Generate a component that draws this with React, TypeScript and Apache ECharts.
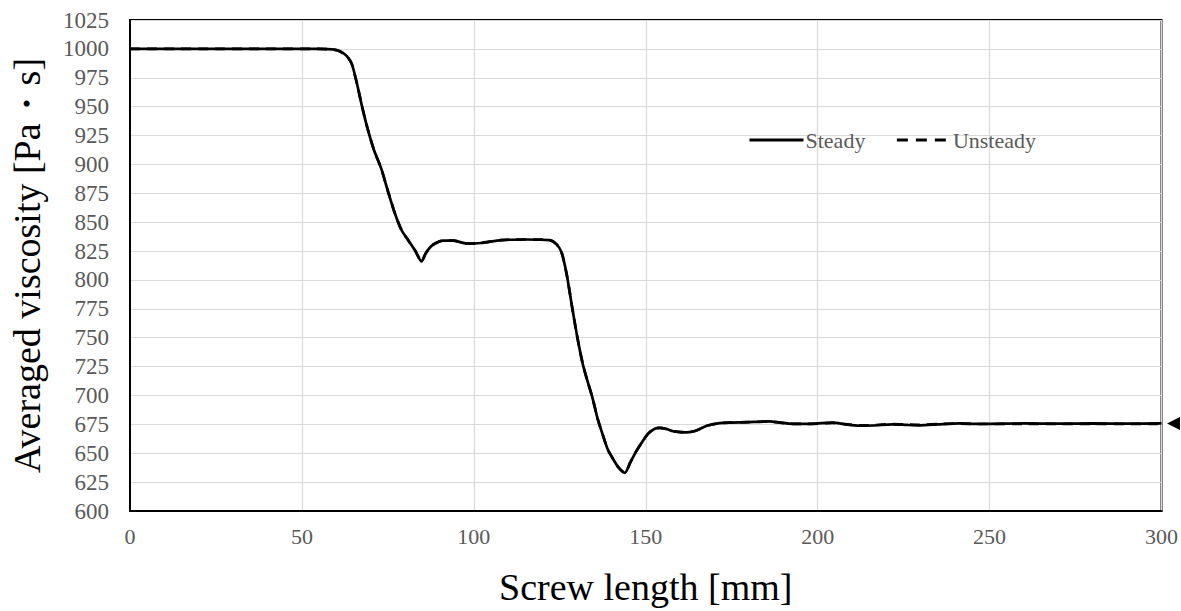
import React, { useEffect, useRef } from "react";
import * as echarts from "echarts";

const xTicks = { min: 0, max: 300, interval: 50 };
const yTicks = { min: 600, max: 1025, interval: 25 };

const screwLength = [
  0, 20, 40, 55, 59, 61, 63, 64.5, 66, 67.5, 69, 71, 73, 75, 77, 79, 81, 83, 84.8, 86,
  87.5, 89, 91, 94, 98, 102, 108, 115, 122, 124, 125.5, 127, 128.5, 130, 131.7, 133,
  134.5, 136, 137.6, 139, 140.5, 142, 143.9, 145.5, 147.3, 149, 150.7, 152.5, 154, 156,
  158, 161.8, 164, 165.7, 168, 171.5, 175, 180, 186, 189, 192.8, 198, 204.4, 208, 212,
  216, 221.8, 226, 229.7, 235, 241.3, 246, 250, 260, 270, 280, 290, 300,
];

const steadyValues = [
  1000, 1000, 1000, 1000, 999.5, 998, 994, 987, 970, 950, 932, 912, 897, 877, 858, 843,
  834, 825, 816, 823, 829, 832, 834, 834, 831.5, 832, 834.5, 835, 834.5, 831, 824, 805,
  778, 752, 727, 713, 698, 680, 665, 653, 645, 638, 633, 642, 652, 660, 667, 671, 672,
  671, 669, 668, 669, 671, 674, 676, 676.5, 677, 677.5, 676.5, 675.5, 675.5, 676.5, 675,
  673.8, 674, 675, 674.5, 674.2, 675, 675.8, 675.5, 675.5, 675.8, 675.6, 675.8, 675.6,
  675.8,
];

const unsteadyValues = [
  1000, 1000, 1000, 1000, 999.5, 998, 994, 987, 970, 950, 932, 912, 897, 877, 858, 843,
  834, 825, 816, 823, 829, 832, 834, 834, 831.5, 832, 834.5, 835, 834.5, 831, 824, 805,
  778, 752, 727, 713, 698, 680, 665, 653, 645, 638, 633, 642, 652, 660, 667, 671, 672,
  671, 669, 668, 669, 671, 674, 676, 676.5, 677, 677.5, 676.5, 675.5, 675.5, 676.2, 675.2,
  674.2, 674.3, 675.2, 674.8, 674.6, 675.3, 675.6, 675.3, 675.3, 675.5, 675.3, 675.5,
  675.3, 675.5,
];

const seriesNames = ["Steady", "Unsteady"];
const xAxisTitle = "Screw length [mm]";
const yAxisTitle = "Averaged viscosity [Pa・s]";

const SERIF = "Liberation Serif";

const xTickLabel = { fontFamily: SERIF, fontSize: 22, color: "#595959" };
const yTickLabel = { fontFamily: SERIF, fontSize: 23, color: "#595959" };

export default function App() {
  const ref = useRef<HTMLDivElement>(null);

  useEffect(() => {
    if (!ref.current) return;
    const chart = echarts.init(ref.current, null, { renderer: "svg" });
    const steady = screwLength.map((x, i) => [x, steadyValues[i]]);
    const unsteady = screwLength.map((x, i) => [x, unsteadyValues[i]]);
    chart.setOption({
      animation: false,
      backgroundColor: "#ffffff",
      textStyle: { fontFamily: SERIF },
      grid: {
        left: 130,
        right: 17,
        top: 20,
        bottom: 99,
        show: true,
        borderColor: "#000000",
        borderWidth: 2,
        containLabel: false,
      },
      legend: {
        left: 748,
        top: 129,
        padding: 0,
        itemWidth: 54,
        itemHeight: 14,
        itemGap: 30,
        itemStyle: { opacity: 0 },
        textStyle: { fontFamily: SERIF, fontSize: 22, color: "#595959", padding: [0, 0, 0, -3] },
        data: [
          { name: seriesNames[0], lineStyle: { width: 3 } },
          { name: seriesNames[1], lineStyle: { width: 3, type: [11, 8] } },
        ],
      },
      xAxis: {
        type: "value",
        min: xTicks.min,
        max: xTicks.max,
        interval: xTicks.interval,
        name: xAxisTitle,
        nameLocation: "middle",
        nameGap: 57,
        nameTextStyle: { fontFamily: SERIF, fontSize: 38, color: "#000000" },
        axisLine: { show: true, lineStyle: { color: "#000000", width: 2 } },
        axisTick: { show: false },
        axisLabel: {
          ...xTickLabel,
          margin: 14,
          formatter: (v: number) => "{t|" + String(v) + "}",
          rich: { t: { ...xTickLabel } },
        },
        splitLine: { show: true, lineStyle: { color: "#d9d9d9", width: 1.2 } },
      },
      yAxis: {
        type: "value",
        min: yTicks.min,
        max: yTicks.max,
        interval: yTicks.interval,
        name: yAxisTitle,
        nameLocation: "middle",
        nameGap: 84,
        nameTextStyle: { fontFamily: SERIF, fontSize: 38, color: "#000000" },
        axisLine: { show: true, lineStyle: { color: "#000000", width: 2 } },
        axisTick: { show: false },
        axisLabel: {
          ...yTickLabel,
          margin: 21,
          formatter: (v: number) => "{t|" + String(v) + "}",
          rich: { t: { ...yTickLabel } },
        },
        splitLine: { show: true, lineStyle: { color: "#d9d9d9", width: 1.2 } },
      },
      series: [
        {
          name: seriesNames[0],
          type: "line",
          data: steady,
          showSymbol: false,
          symbol: "none",
          smooth: 0.25,
          lineStyle: { color: "#000000", width: 2.7, type: "solid" },
          itemStyle: { color: "#000000" },
          markPoint: {
            silent: true,
            symbol: "triangle",
            symbolSize: [13, 13],
            symbolRotate: 90,
            symbolOffset: [12, 0],
            label: { show: false },
            itemStyle: { color: "#000000", opacity: 1 },
            data: [{ coord: [screwLength[screwLength.length - 1], steadyValues[steadyValues.length - 1]] }],
          },
        },
        {
          name: seriesNames[1],
          type: "line",
          data: unsteady,
          showSymbol: false,
          symbol: "none",
          smooth: 0.25,
          lineStyle: { color: "#000000", width: 2.7, type: [10, 7] },
          itemStyle: { color: "#000000" },
        },
      ],
    });
    return () => chart.dispose();
  }, []);

  return (
    <div
      ref={ref}
      style={{ position: "absolute", left: 0, top: 0, width: 1181, height: 611, background: "#fff" }}
    />
  );
}
